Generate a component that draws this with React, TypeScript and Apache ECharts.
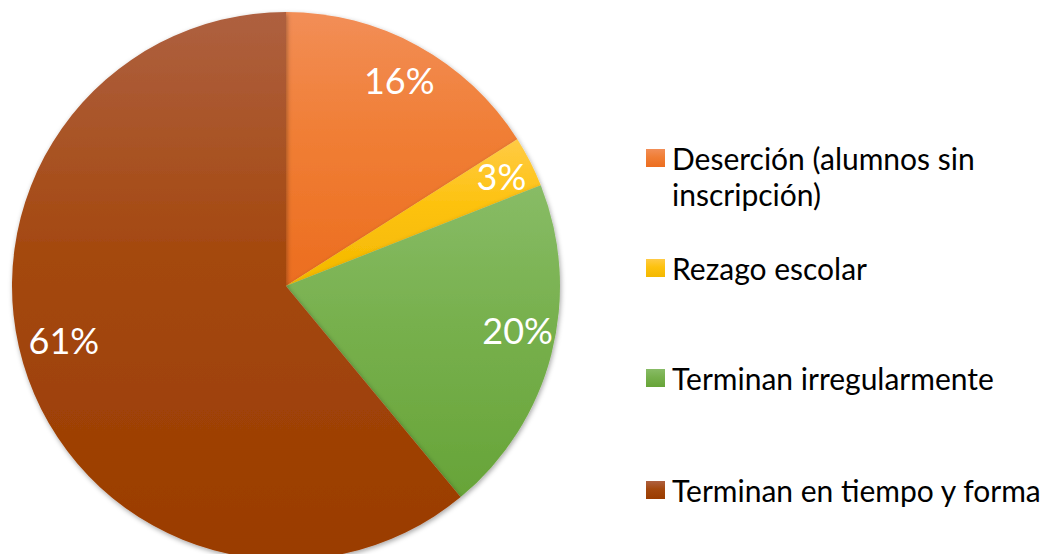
import React, { useEffect, useRef } from "react";
import * as echarts from "echarts";

const categories = [
  "Deserción (alumnos sin inscripción)",
  "Rezago escolar",
  "Terminan irregularmente",
  "Terminan en tiempo y forma",
];
const values = [16, 3, 20, 61];
const gradientStops = [
  ["#F28E57", "#F07E35", "#EC6D1F"],
  ["#FFCB45", "#FDC20E", "#F3B800"],
  ["#88BC66", "#77B04D", "#67A438"],
  ["#AE6040", "#A4480E", "#9A3C00"],
];
const labelNudges = [
  [0, 0],
  [6, -3],
  [4, -14],
  [-1, -26],
];
const legendCenters = [158, 268, 378, 490];

const FONT = "Lato";

export default function App() {
  const ref = useRef<HTMLDivElement>(null);
  useEffect(() => {
    document.body.style.margin = "0";
    const chart = echarts.init(ref.current!, null, { renderer: "svg" });
    const data = categories.map((name, i) => ({
      name,
      value: values[i],
      itemStyle: {
        color: new echarts.graphic.LinearGradient(0, 0, 0, 1, [
          { offset: 0, color: gradientStops[i][0] },
          { offset: 0.45, color: gradientStops[i][1] },
          { offset: 1, color: gradientStops[i][2] },
        ]),
      },
    }));
    const lineH = 36;
    const legends = categories.map((name, i) => {
      const multi = i === 0;
      const h = multi ? lineH * 3 : lineH;
      return {
        orient: "vertical",
        left: 646,
        top: legendCenters[i] - h / 2,
        padding: 0,
        itemWidth: 19,
        itemHeight: 18,
        icon: "rect",
        data: [name],
        selectedMode: false,
        formatter: multi
          ? () => " \nDeserción (alumnos sin\ninscripción)"
          : (n: string) => n,
        textStyle: {
          fontFamily: FONT,
          fontSize: 30,
          color: "#000000",
          lineHeight: lineH,
          padding: [0, 0, 0, 2],
        },
      };
    });
    chart.setOption({
      animation: false,
      backgroundColor: "#ffffff",
      legend: legends,
      series: [
        {
          type: "pie",
          center: [286, 286],
          radius: [0, 274],
          startAngle: 90,
          clockwise: true,
          silent: true,
          label: { show: false },
          labelLine: { show: false },
          itemStyle: {
            shadowBlur: 5,
            shadowColor: "rgba(0,0,0,0.35)",
            shadowOffsetX: 1,
            shadowOffsetY: 2,
          },
          data,
        },
        {
          type: "pie",
          center: [286, 286],
          radius: [190, 274],
          startAngle: 90,
          clockwise: true,
          silent: true,
          legendHoverLink: false,
          itemStyle: { color: "rgba(0,0,0,0)" },
          label: {
            show: true,
            position: "inside",
            formatter: (p: any) => `${p.value}%`,
            color: "#ffffff",
            fontFamily: FONT,
            fontSize: 36,
          },
          labelLine: { show: false },
          data: categories.map((name, i) => ({
            name: name + " ",
            value: values[i],
            label: { offset: labelNudges[i] },
          })),
        },
      ],
    });
    return () => chart.dispose();
  }, []);
  return <div ref={ref} style={{ width: 1047, height: 554 }} />;
}
